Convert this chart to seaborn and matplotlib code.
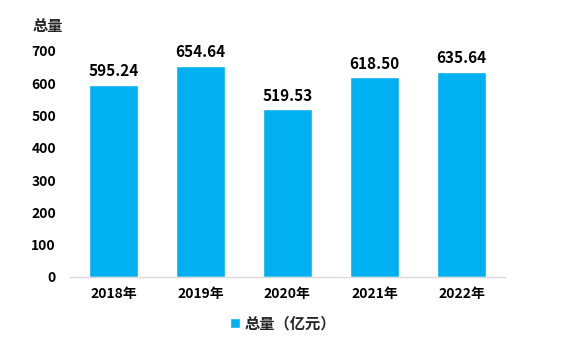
import matplotlib
matplotlib.use("Agg")
import matplotlib.pyplot as plt
import seaborn as sns
import pandas as pd

years = ["2018年", "2019年", "2020年", "2021年", "2022年"]
values = [595.24, 654.64, 519.53, 618.50, 635.64]
series_name = "总量（亿元）"
y_title = "总量"
y_ticks = [0, 100, 200, 300, 400, 500, 600, 700]

sns.set_theme(style="white")
plt.rcParams['font.family'] = ['Noto Sans CJK SC', 'DejaVu Sans']

df = pd.DataFrame({"year": years, "value": values, "series": series_name})

fig = plt.figure(figsize=(5.68, 3.44), dpi=100)
ax = fig.add_axes([0.123, 0.195, 0.766, 0.657])
sns.barplot(data=df, x="year", y="value", hue="series", palette=["#00B0F0"],
            width=0.56, ax=ax, saturation=1)
ax.set_ylim(0, 700)
ax.set_yticks(y_ticks)
ax.set_xlabel("")
ax.set_ylabel("")
for s in ["top", "right", "left"]:
    ax.spines[s].set_visible(False)
ax.spines["bottom"].set_color("#D9D9D9")
ax.spines["bottom"].set_linewidth(1)
ax.tick_params(axis="both", length=0, labelsize=10, pad=7)
for lbl in ax.get_xticklabels() + ax.get_yticklabels():
    lbl.set_fontweight("bold")
    lbl.set_color("#000000")
ax.tick_params(axis="y", pad=10)

for c in ax.containers:
    ax.bar_label(c, labels=[f"{v:.2f}" for v in values], padding=4,
                 fontsize=11, fontweight="bold", color="#000000")

leg = ax.legend(loc="center", bbox_to_anchor=(0.49, -0.205), frameon=False,
                handlelength=0.7, handleheight=0.7, handletextpad=0.3,
                prop={"size": 11, "weight": "bold"})
fig.text(0.058, 0.925, y_title, fontsize=11, fontweight="bold", ha="left", va="center")

fig.savefig("out.png", dpi=100)
